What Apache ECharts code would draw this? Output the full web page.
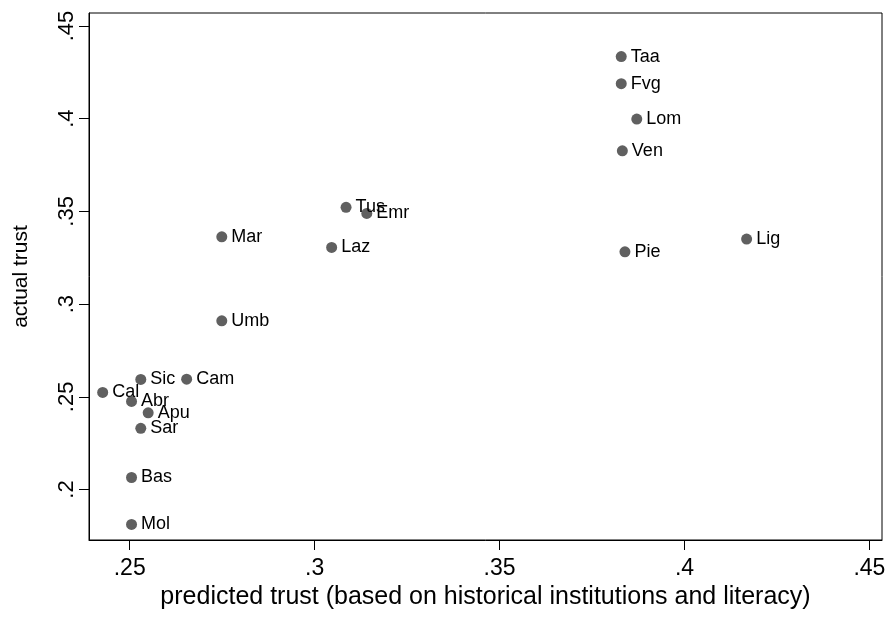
<!DOCTYPE html>
<html>
<head>
<meta charset="utf-8">
<script src="https://cdn.jsdelivr.net/npm/echarts@6/dist/echarts.min.js"></script>
<style>
  html, body { margin: 0; padding: 0; background: #fff; }
  #chart { width: 890px; height: 618px; }
</style>
</head>
<body>
<div id="chart"></div>
<script>
// Italian regions: predicted vs. actual trust
const regions = ['Taa', 'Fvg', 'Lom', 'Ven', 'Lig', 'Pie', 'Tus', 'Emr', 'Laz', 'Mar', 'Umb',
                 'Sic', 'Cam', 'Cal', 'Abr', 'Apu', 'Sar', 'Bas', 'Mol'];
const predictedTrust = [0.3829, 0.3829, 0.3871, 0.3832, 0.4168, 0.3839, 0.3085, 0.3141, 0.3046, 0.2749, 0.2749,
                        0.2530, 0.2654, 0.2427, 0.2505, 0.2550, 0.2530, 0.2505, 0.2505];
const actualTrust = [0.4335, 0.4189, 0.3998, 0.3827, 0.3351, 0.3282, 0.3522, 0.3489, 0.3306, 0.3363, 0.2910,
                     0.2594, 0.2595, 0.2524, 0.2475, 0.2414, 0.2330, 0.2065, 0.1812];
const xTicks = [0.25, 0.3, 0.35, 0.4, 0.45];
const yTicks = [0.2, 0.25, 0.3, 0.35, 0.4, 0.45];

const FONT = 'Liberation Sans, Arial, sans-serif';
const stripZero = v => String(+v.toFixed(2)).replace(/^0\./, '.');

const points = regions.map((r, i) => [predictedTrust[i], actualTrust[i], r]);

const chart = echarts.init(document.getElementById('chart'), null, { renderer: 'canvas' });
chart.setOption({
  animation: false,
  backgroundColor: '#fff',
  grid: {
    left: 89, right: 8, top: 13, bottom: 78,
    show: true, borderColor: '#000', borderWidth: 1, backgroundColor: '#fff'
  },
  xAxis: {
    type: 'value',
    min: 0.2390, max: 0.4534,
    name: 'predicted trust (based on historical institutions and literacy)',
    nameLocation: 'middle',
    nameGap: 44,
    nameTextStyle: { fontFamily: FONT, fontSize: 25, color: '#000' },
    axisLine: { show: true, onZero: false, lineStyle: { color: '#000', width: 1 } },
    axisTick: { show: true, length: 10, customValues: xTicks, lineStyle: { color: '#000' } },
    axisLabel: { customValues: xTicks, formatter: stripZero, fontFamily: FONT, fontSize: 23, color: '#000', margin: 17 },
    splitLine: { show: false }
  },
  yAxis: {
    type: 'value',
    min: 0.1728, max: 0.4570,
    name: 'actual trust',
    nameLocation: 'middle',
    nameRotate: 90,
    nameGap: 57,
    nameTextStyle: { fontFamily: FONT, fontSize: 21, color: '#000' },
    axisLine: { show: true, onZero: false, lineStyle: { color: '#000', width: 1 } },
    axisTick: { show: true, length: 10, customValues: yTicks, lineStyle: { color: '#000' } },
    axisLabel: { customValues: yTicks, formatter: stripZero, rotate: 90, fontFamily: FONT, fontSize: 22, color: '#000', margin: 11 },
    splitLine: { show: false }
  },
  series: [{
    type: 'scatter',
    data: points,
    symbol: 'circle',
    symbolSize: 11,
    itemStyle: { color: '#606060', opacity: 1 },
    label: {
      show: true,
      position: 'right',
      distance: 4,
      formatter: p => p.data[2],
      fontFamily: FONT,
      fontSize: 18,
      color: '#000'
    },
    labelLayout: { hideOverlap: false },
    emphasis: { disabled: true }
  }]
});
</script>
</body>
</html>
